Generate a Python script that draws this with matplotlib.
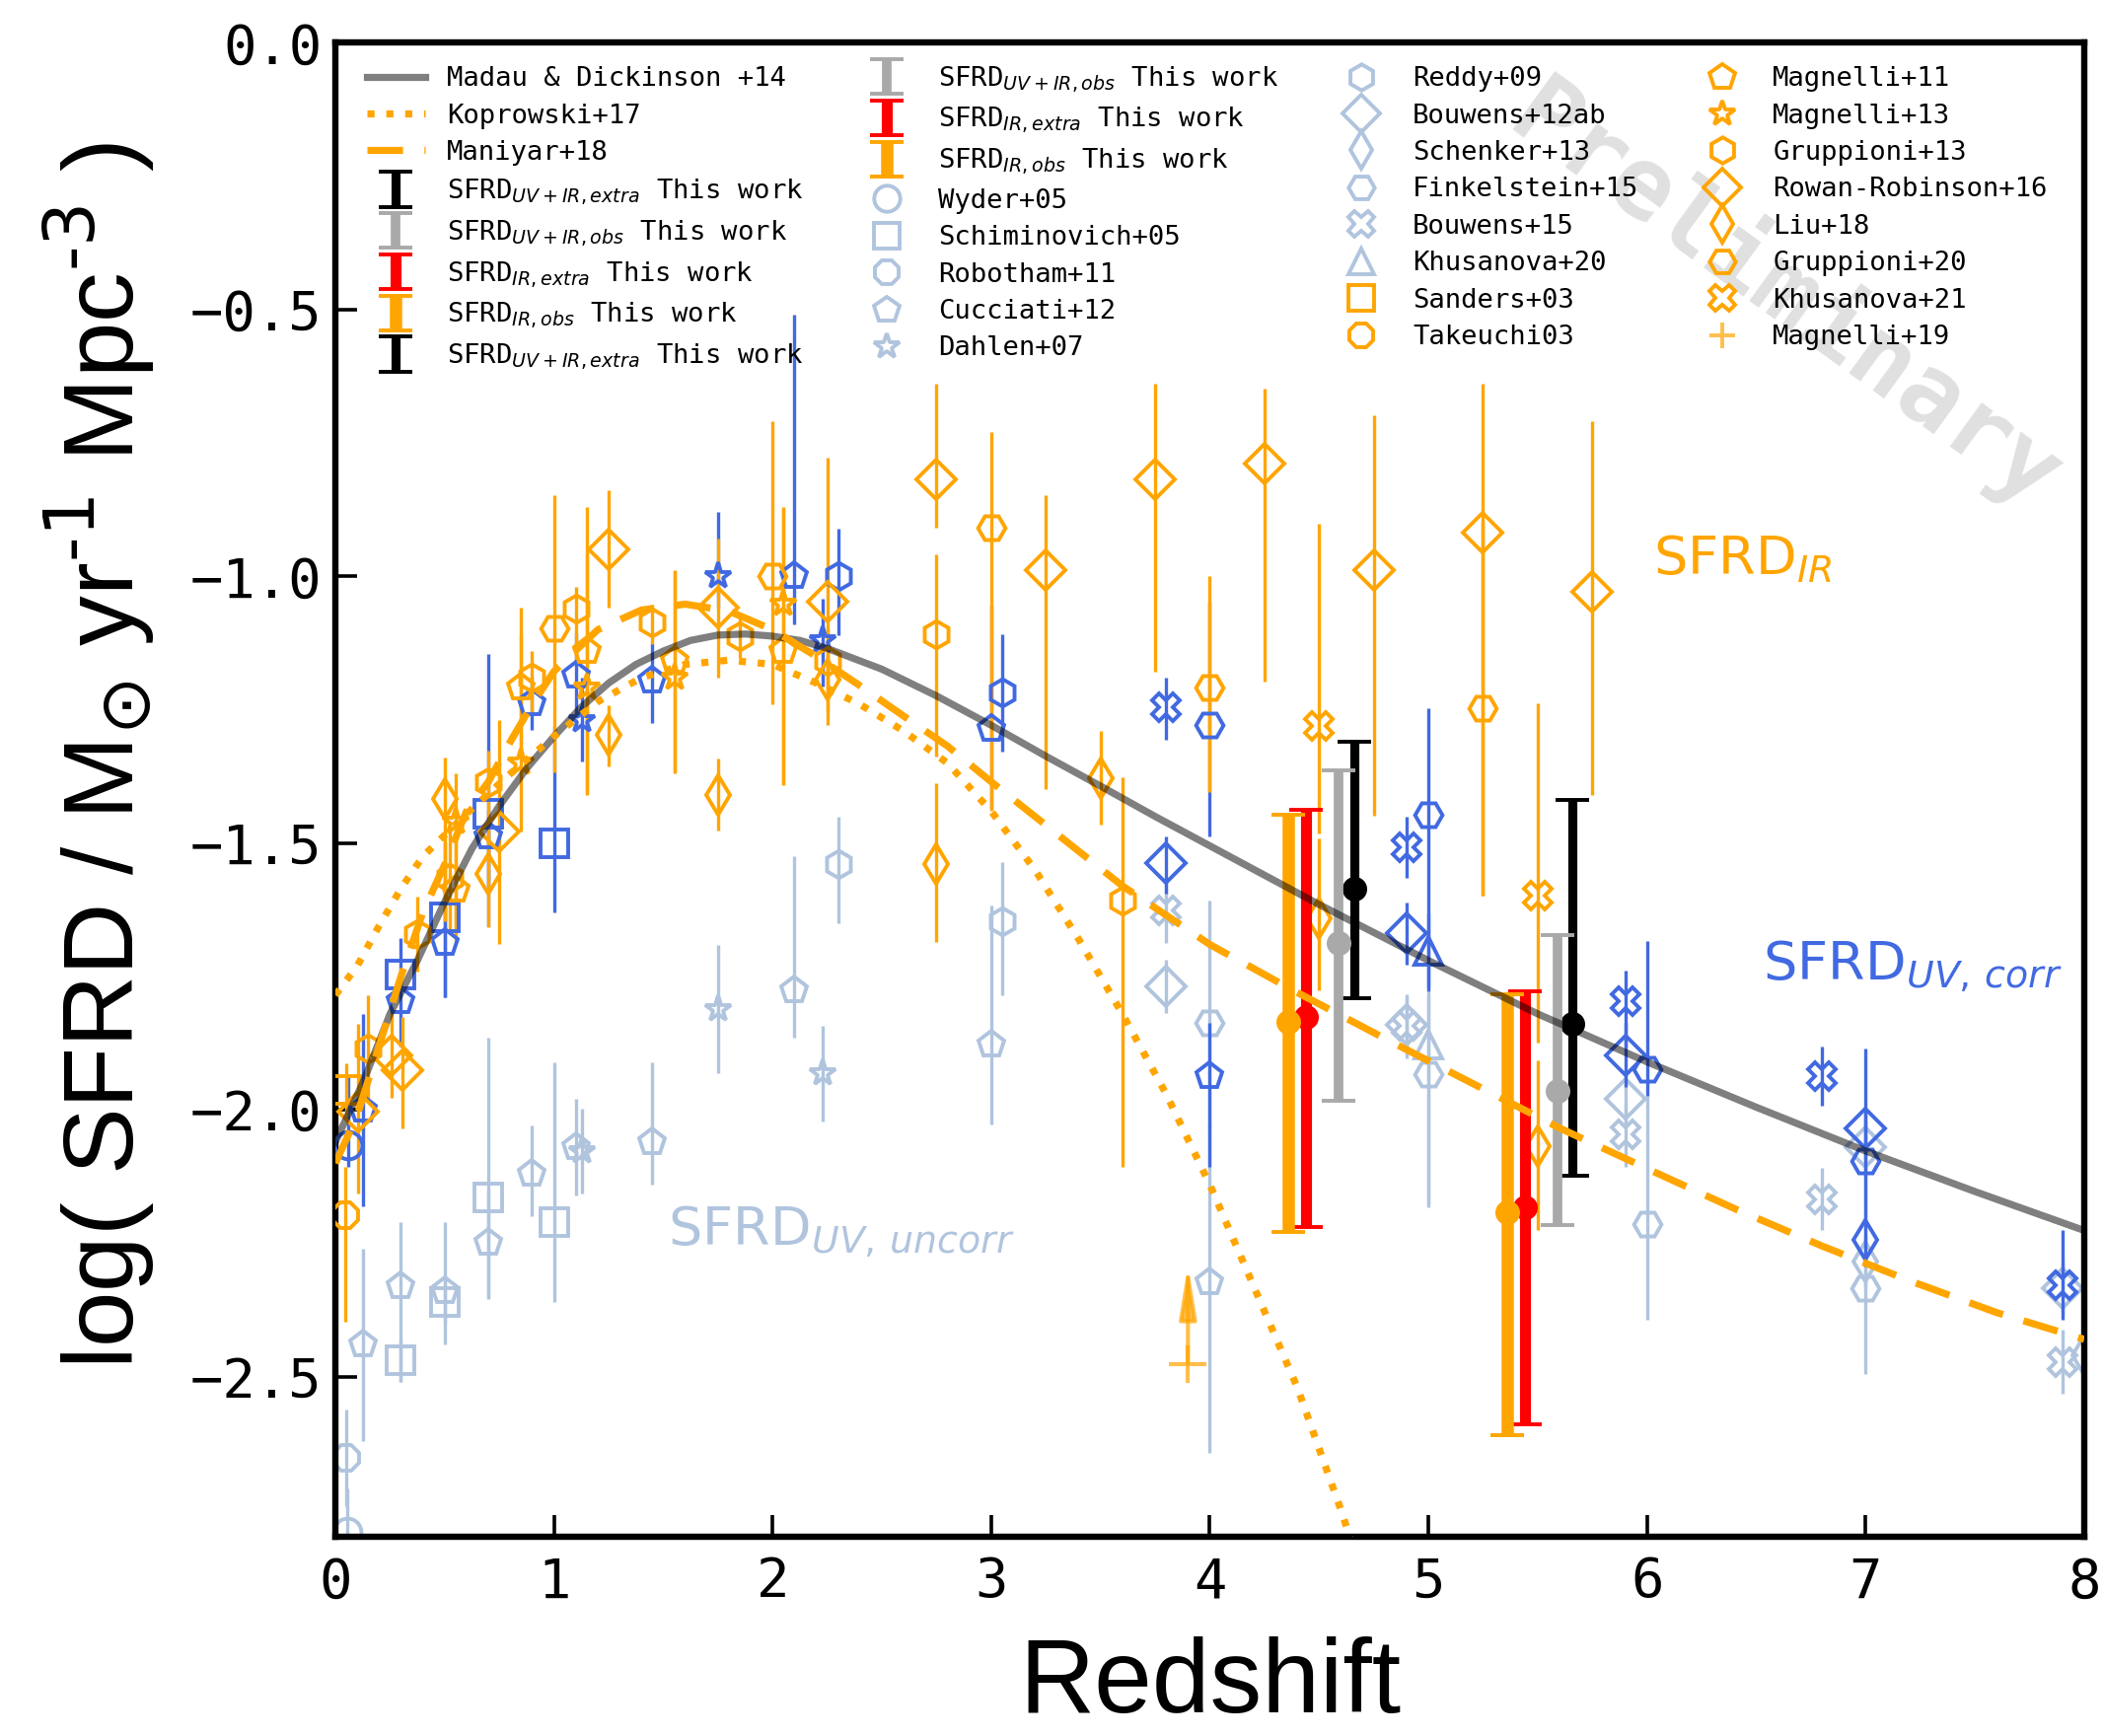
import matplotlib
matplotlib.use('Agg')
import matplotlib.pyplot as plt
from matplotlib.lines import Line2D
from matplotlib.container import ErrorbarContainer
from matplotlib.legend_handler import HandlerErrorbar

plt.rcParams['font.family'] = 'DejaVu Sans Mono'
plt.rcParams['mathtext.fontset'] = 'dejavusans'

LB = 'lightsteelblue'   # UV, uncorrected
RB = 'royalblue'        # UV, dust corrected
OR = 'orange'           # IR

# ---- model curves
md_z = [0, 0.125, 0.25, 0.375, 0.5, 0.625, 0.75, 0.875, 1.0, 1.125, 1.25, 1.375, 1.5, 1.625,
        1.75, 1.875, 2.0, 2.125, 2.25, 2.5, 2.75, 3.0, 3.25, 3.5, 3.75, 4.0, 4.5, 5.0, 5.5,
        6.0, 6.5, 7.0, 7.5, 8.0]
md_sfrd = [-2.06, -1.95, -1.82, -1.72, -1.61, -1.51, -1.43, -1.36, -1.30, -1.245, -1.20,
           -1.165, -1.14, -1.12, -1.11, -1.108, -1.112, -1.12, -1.135, -1.174, -1.224, -1.279,
           -1.337, -1.393, -1.45, -1.505, -1.615, -1.72, -1.82, -1.91, -1.995, -2.077, -2.153,
           -2.226]

kop_z = [0, 0.1, 0.2, 0.3, 0.4, 0.5, 0.6, 0.8, 1.0, 1.2, 1.4, 1.6, 1.8, 2.0, 2.2, 2.4, 2.6,
         2.8, 3.0, 3.2, 3.4, 3.6, 3.8, 4.0, 4.2, 4.4, 4.6, 4.8]
kop_sfrd = [-1.785, -1.73, -1.655, -1.585, -1.525, -1.485, -1.445, -1.37, -1.30, -1.235, -1.19,
            -1.165, -1.157, -1.165, -1.20, -1.24, -1.29, -1.35, -1.44, -1.55, -1.68, -1.82,
            -1.97, -2.14, -2.33, -2.52, -2.75, -3.0]

man_z = [0, 0.1, 0.2, 0.3, 0.4, 0.5, 0.6, 0.7, 0.8, 0.9, 1.0, 1.2, 1.4, 1.6, 1.8, 2.0, 2.2,
         2.4, 2.6, 2.8, 3.0, 3.2, 3.6, 4.0, 4.4, 4.8, 5.2, 5.6, 6.0, 6.4, 6.8, 7.2, 7.6, 8.0]
man_sfrd = [-2.10, -2.01, -1.88, -1.75, -1.63, -1.54, -1.44, -1.385, -1.31, -1.24, -1.178, -1.10,
            -1.063, -1.052, -1.065, -1.10, -1.15, -1.205, -1.262, -1.318, -1.385, -1.45, -1.58,
            -1.69, -1.78, -1.866, -1.95, -2.034, -2.11, -2.185, -2.255, -2.32, -2.38, -2.43]

# ---- this work: two redshift bins
uvir_extra_z = [4.66, 5.66]
uvir_extra = [-1.586, -1.839]
uvir_extra_lo = [0.205, 0.284]
uvir_extra_hi = [0.276, 0.42]

uvir_obs_z = [4.59, 5.59]
uvir_obs = [-1.688, -1.965]
uvir_obs_lo = [0.295, 0.25]
uvir_obs_hi = [0.325, 0.293]

ir_extra_z = [4.44, 5.44]
ir_extra = [-1.826, -2.183]
ir_extra_lo = [0.393, 0.406]
ir_extra_hi = [0.389, 0.406]

ir_obs_z = [4.36, 5.36]
ir_obs = [-1.835, -2.191]
ir_obs_lo = [0.393, 0.419]
ir_obs_hi = [0.389, 0.407]

# ---- UV literature: uncorrected (u) and dust corrected (c)
wyder_uz, wyder_u, wyder_ulo, wyder_uhi = [0.055], [-2.79], [0.06], [0.08]
wyder_cz, wyder_c, wyder_clo, wyder_chi = [0.06], [-2.067], [0.04], [0.13]

robotham_uz, robotham_u, robotham_ulo, robotham_uhi = [0.05], [-2.652], [0.09], [0.09]

schim_uz = [0.3, 0.5, 0.7, 1.0]
schim_u = [-2.47, -2.36, -2.165, -2.21]
schim_ulo = [0.04, 0.04, 0.19, 0.15]
schim_uhi = [0.04, 0.04, 0.30, 0.30]
schim_cz = [0.3, 0.5, 0.7, 1.0]
schim_c = [-1.747, -1.639, -1.445, -1.50]
schim_clo = [0.04, 0.15, 0.21, 0.13]
schim_chi = [0.07, 0.14, 0.30, 0.22]

cucciati_uz = [0.125, 0.3, 0.5, 0.7, 0.9, 1.1, 1.45, 2.1, 3.0, 4.0]
cucciati_u = [-2.44, -2.33, -2.34, -2.25, -2.12, -2.07, -2.06, -1.775, -1.877, -2.323]
cucciati_ulo = [0.18, 0.18, 0.10, 0.1, 0.08, 0.09, 0.08, 0.09, 0.15, 0.32]
cucciati_uhi = [0.18, 0.12, 0.13, 0.1, 0.09, 0.09, 0.15, 0.25, 0.26, 0.30]
cucciati_cz = [0.125, 0.3, 0.5, 0.7, 0.9, 1.1, 1.45, 2.1, 3.0, 4.0]
cucciati_c = [-2.00, -1.796, -1.688, -1.487, -1.238, -1.186, -1.195, -1.00, -1.285, -1.937]
cucciati_clo = [0.18, 0.085, 0.1, 0.1, 0.05, 0.08, 0.08, 0.09, 0.15, 0.17]
cucciati_chi = [0.18, 0.05, 0.07, 0.05, 0.05, 0.08, 0.07, 0.49, 0.23, 0.10]

dahlen_uz, dahlen_u = [1.13, 1.75, 2.23], [-2.077, -1.811, -1.932]
dahlen_ulo, dahlen_uhi = [0.08, 0.12, 0.09], [0.08, 0.12, 0.09]
dahlen_cz, dahlen_c = [1.13, 1.75, 2.23], [-1.27, -1.00, -1.12]
dahlen_clo, dahlen_chi = [0.076, 0.06, 0.087], [0.08, 0.12, 0.078]

reddy_uz, reddy_u, reddy_ulo, reddy_uhi = [2.3, 3.05], [-1.54, -1.646], [0.11, 0.14], [0.09, 0.11]
reddy_cz, reddy_c, reddy_clo, reddy_chi = [2.3, 3.05], [-1.00, -1.218], [0.11, 0.11], [0.09, 0.11]

bouwens12_uz = [3.8, 4.9, 5.9, 7.0, 7.9]
bouwens12_u = [-1.769, -1.84, -1.979, -2.07, -2.335]
bouwens12_uerr = [0.05, 0.05, 0.05, 0.05, 0.05]
bouwens12_cz = [3.8, 4.9, 5.9, 7.0]
bouwens12_c = [-1.538, -1.669, -1.897, -2.034]
bouwens12_clo = [0.056, 0.058, 0.06, 0.06]
bouwens12_chi = [0.051, 0.058, 0.06, 0.15]

schenker_uz, schenker_u, schenker_uerr = [7.0, 8.0], [-2.284, -2.46], [0.05, 0.05]
schenker_cz, schenker_c, schenker_cerr = [7.0], [-2.244], [0.05]

finkel_uz = [4.0, 5.0, 6.0, 7.0]
finkel_u = [-1.837, -1.933, -2.214, -2.335]
finkel_ulo = [0.2, 0.25, 0.18, 0.16]
finkel_uhi = [0.23, 0.15, 0.24, 0.23]
finkel_cz = [4.0, 5.0, 6.0, 7.0]
finkel_c = [-1.278, -1.447, -1.924, -2.096]
finkel_clo = [0.21, 0.33, 0.05, 0.1]
finkel_chi = [0.23, 0.20, 0.24, 0.1]

bouwens15_uz = [3.8, 4.9, 5.9, 6.8, 7.9]
bouwens15_u = [-1.627, -1.843, -2.046, -2.167, -2.472]
bouwens15_uerr = [0.06, 0.06, 0.06, 0.058, 0.06]
bouwens15_cz = [3.8, 4.9, 5.9, 6.8, 7.9]
bouwens15_c = [-1.246, -1.508, -1.797, -1.937, -2.329]
bouwens15_clo = [0.06, 0.058, 0.084, 0.055, 0.065]
bouwens15_chi = [0.056, 0.058, 0.058, 0.055, 0.104]

khus20_uz, khus20_u, khus20_ulo, khus20_uhi = [5.0], [-1.877], [0.3], [0.1]
khus20_cz, khus20_c, khus20_cerr = [5.0], [-1.702], [0.07]

# ---- IR literature
sanders_z, sanders, sanders_err = [0.05], [-1.962], [0.05]
takeuchi_z, takeuchi, takeuchi_lo, takeuchi_hi = [0.045], [-2.197], [0.2], [0.09]

magnelli11_z = [0.55, 0.85, 1.15, 1.55, 2.05]
magnelli11 = [-1.587, -1.208, -1.14, -1.158, -1.14]
magnelli11_lo = [0.1, 0.12, 0.27, 0.21, 0.25]
magnelli11_hi = [0.1, 0.1, 0.27, 0.17, 0.27]

magnelli13_z = [0.55, 0.85, 1.15, 1.55, 2.05]
magnelli13 = [-1.46, -1.349, -1.208, -1.19, -1.052]
magnelli13_lo = [0.2, 0.13, 0.2, 0.18, 0.34]
magnelli13_hi = [0.09, 0.29, 0.25, 0.2, 0.18]

gruppioni13_z = [0.15, 0.375, 0.525, 0.7, 0.9, 1.1, 1.45, 1.85, 2.25, 2.75, 3.6]
gruppioni13 = [-1.885, -1.67, -1.565, -1.386, -1.189, -1.06, -1.087, -1.112, -1.158, -1.108, -1.607]
gruppioni13_lo = [0.1, 0.07, 0.1, 0.15, 0.07, 0.1, 0.04, 0.04, 0.06, 0.23, 0.5]
gruppioni13_hi = [0.1, 0.07, 0.1, 0.06, 0.05, 0.04, 0.034, 0.04, 0.06, 0.15, 0.23]

rowan_z = [0.105, 0.255, 0.308, 0.75, 1.25, 1.75, 2.25, 2.75, 3.25, 3.75, 4.25, 4.75, 5.25, 5.75]
rowan = [-2.003, -1.898, -1.925, -1.479, -0.949, -1.059, -1.048, -0.818, -0.988, -0.819, -0.788,
         -0.988, -0.918, -1.029]
rowan_lo = [0.154, 0.08, 0.11, 0.21, 0.11, 0.13, 0.23, 0.09, 0.41, 0.36, 0.41, 0.46, 0.68, 0.38]
rowan_hi = [0.164, 0.09, 0.1, 0.21, 0.11, 0.13, 0.27, 0.18, 0.14, 0.18, 0.14, 0.29, 0.28, 0.32]

liu18_z = [0.5, 0.7, 1.25, 1.75, 2.25, 2.75, 3.5, 4.5, 5.5]
liu18 = [-1.417, -1.557, -1.297, -1.409, -1.193, -1.54, -1.378, -1.64, -2.068]
liu18_lo = [0.23, 0.1, 0.06, 0.067, 0.06, 0.145, 0.088, 0.135, 0.157]
liu18_hi = [0.077, 0.07, 0.056, 0.067, 0.06, 0.152, 0.089, 0.149, 0.161]

gruppioni20_z = [1.0, 2.0, 3.0, 4.0, 5.25]
gruppioni20 = [-1.098, -0.999, -0.909, -1.208, -1.248]
gruppioni20_lo = [0.27, 0.24, 0.53, 0.196, 0.35]
gruppioni20_hi = [0.25, 0.29, 0.18, 0.209, 0.35]

khus21_z, khus21, khus21_lo, khus21_hi = [4.5, 5.5], [-1.281, -1.598], [0.2, 0.275], [0.38, 0.36]

magnelli19_z, magnelli19, magnelli19_tip = [3.9], [-2.476], [-2.29]


def pts(ax, z, v, lo, hi, marker, color, zorder=3, ms=10):
    ax.errorbar(z, v, yerr=[lo, hi], fmt=marker, mfc='none', mec=color, ecolor=color,
                ms=ms, mew=1.4, elinewidth=1.2, capsize=0, zorder=zorder)


def proxy(marker, color, alpha=1.0):
    return Line2D([], [], ls='none', marker=marker, mfc='none', mec=color, ms=9.5, mew=1.4,
                  alpha=alpha)


fig = plt.figure(figsize=(2133 / 200, 1760 / 200), dpi=200)
ax = fig.add_axes([0.1594, 0.1148, 0.8312, 0.8605])

# uncorrected UV
pts(ax, wyder_uz, wyder_u, wyder_ulo, wyder_uhi, 'o', LB, 2)
pts(ax, robotham_uz, robotham_u, robotham_ulo, robotham_uhi, '8', LB, 2)
pts(ax, schim_uz, schim_u, schim_ulo, schim_uhi, 's', LB, 2)
pts(ax, cucciati_uz, cucciati_u, cucciati_ulo, cucciati_uhi, 'p', LB, 2)
pts(ax, dahlen_uz, dahlen_u, dahlen_ulo, dahlen_uhi, '*', LB, 2)
pts(ax, reddy_uz, reddy_u, reddy_ulo, reddy_uhi, 'h', LB, 2)
pts(ax, bouwens12_uz, bouwens12_u, bouwens12_uerr, bouwens12_uerr, 'D', LB, 2)
pts(ax, schenker_uz, schenker_u, schenker_uerr, schenker_uerr, 'd', LB, 2)
pts(ax, finkel_uz, finkel_u, finkel_ulo, finkel_uhi, 'H', LB, 2)
pts(ax, bouwens15_uz, bouwens15_u, bouwens15_uerr, bouwens15_uerr, 'X', LB, 2)
pts(ax, khus20_uz, khus20_u, khus20_ulo, khus20_uhi, '^', LB, 2)

# dust corrected UV
pts(ax, wyder_cz, wyder_c, wyder_clo, wyder_chi, 'o', RB)
pts(ax, schim_cz, schim_c, schim_clo, schim_chi, 's', RB)
pts(ax, cucciati_cz, cucciati_c, cucciati_clo, cucciati_chi, 'p', RB)
pts(ax, dahlen_cz, dahlen_c, dahlen_clo, dahlen_chi, '*', RB)
pts(ax, reddy_cz, reddy_c, reddy_clo, reddy_chi, 'h', RB)
pts(ax, bouwens12_cz, bouwens12_c, bouwens12_clo, bouwens12_chi, 'D', RB)
pts(ax, schenker_cz, schenker_c, schenker_cerr, schenker_cerr, 'd', RB)
pts(ax, finkel_cz, finkel_c, finkel_clo, finkel_chi, 'H', RB)
pts(ax, bouwens15_cz, bouwens15_c, bouwens15_clo, bouwens15_chi, 'X', RB)
pts(ax, khus20_cz, khus20_c, khus20_cerr, khus20_cerr, '^', RB)

# IR
pts(ax, sanders_z, sanders, sanders_err, sanders_err, 's', OR)
pts(ax, takeuchi_z, takeuchi, takeuchi_lo, takeuchi_hi, '8', OR)
pts(ax, magnelli11_z, magnelli11, magnelli11_lo, magnelli11_hi, 'p', OR)
pts(ax, magnelli13_z, magnelli13, magnelli13_lo, magnelli13_hi, '*', OR)
pts(ax, gruppioni13_z, gruppioni13, gruppioni13_lo, gruppioni13_hi, 'h', OR)
pts(ax, rowan_z, rowan, rowan_lo, rowan_hi, 'D', OR)
pts(ax, liu18_z, liu18, liu18_lo, liu18_hi, 'd', OR)
pts(ax, gruppioni20_z, gruppioni20, gruppioni20_lo, gruppioni20_hi, 'H', OR)
pts(ax, khus21_z, khus21, khus21_lo, khus21_hi, 'X', OR)

# Magnelli+19 lower limit
ax.plot(magnelli19_z, magnelli19, '+', color=OR, alpha=0.7, ms=14, mew=1.5, zorder=3)
ax.annotate('', xy=(magnelli19_z[0], magnelli19_tip[0]), xytext=(magnelli19_z[0], magnelli19[0]),
            arrowprops=dict(arrowstyle='-|>,head_length=0.8,head_width=0.13', color=OR,
                            alpha=0.7, lw=1.5, mutation_scale=20, shrinkA=0, shrinkB=0),
            zorder=3)

# model curves
md_line, = ax.plot(md_z, md_sfrd, color='k', alpha=0.5, lw=2.6, zorder=10)
kop_line, = ax.plot(kop_z, kop_sfrd, color=OR, ls=':', lw=2.6, zorder=10)
man_line, = ax.plot(man_z, man_sfrd, color=OR, ls=(0, (5, 3)), lw=2.6, zorder=10)

# this work
tw_series = [
    (uvir_extra_z, uvir_extra, uvir_extra_lo, uvir_extra_hi, 'k', 3.3),
    (uvir_obs_z, uvir_obs, uvir_obs_lo, uvir_obs_hi, 'darkgrey', 3.5),
    (ir_extra_z, ir_extra, ir_extra_lo, ir_extra_hi, 'red', 4.0),
    (ir_obs_z, ir_obs, ir_obs_lo, ir_obs_hi, OR, 4.5),
]
tw_labels = [r'SFRD$_{UV+IR,extra}$ This work', r'SFRD$_{UV+IR,obs}$ This work',
             r'SFRD$_{IR,extra}$ This work', r'SFRD$_{IR,obs}$ This work']
tw_handles = []
for i in range(2):
    for (zz, vv, lo, hi, col, lw), lab in zip(tw_series, tw_labels):
        eb = ax.errorbar([zz[i]], [vv[i]], yerr=[[lo[i]], [hi[i]]], fmt='none', ecolor=col,
                         elinewidth=lw, capsize=6, capthick=1.4, zorder=8)
        ax.plot([zz[i]], [vv[i]], 'o', color=col, ms=8, zorder=8)
        tw_handles.append((eb, lab))

# annotations
ax.text(6.03, -0.996, r'SFRD$_{IR}$', color=OR, fontsize=19.5, family='DejaVu Sans')
ax.text(6.53, -1.756, r'SFRD$_{UV,\,corr}$', color=RB, fontsize=19.5, family='DejaVu Sans')
ax.text(1.52, -2.254, r'SFRD$_{UV,\,uncorr}$', color=LB, fontsize=19.5, family='DejaVu Sans')
ax.text(0.829, 0.83, 'Preliminary', transform=ax.transAxes, rotation=-36, fontsize=36,
        fontweight='bold', color='#e0e0e0', ha='center', va='center', zorder=0)

# legend
handles = [md_line, kop_line, man_line] + [h for h, _ in tw_handles] + [
    proxy('o', LB), proxy('s', LB), proxy('8', LB), proxy('p', LB), proxy('*', LB),
    proxy('h', LB), proxy('D', LB), proxy('d', LB), proxy('H', LB), proxy('X', LB),
    proxy('^', LB), proxy('s', OR), proxy('8', OR),
    proxy('p', OR), proxy('*', OR), proxy('h', OR), proxy('D', OR), proxy('d', OR),
    proxy('H', OR), proxy('X', OR), proxy('+', OR, 0.7)]
labels = ['Madau & Dickinson +14', 'Koprowski+17', 'Maniyar+18'] + [l for _, l in tw_handles] + [
    'Wyder+05', 'Schiminovich+05', 'Robotham+11', 'Cucciati+12', 'Dahlen+07',
    'Reddy+09', 'Bouwens+12ab', 'Schenker+13', 'Finkelstein+15', 'Bouwens+15',
    'Khusanova+20', 'Sanders+03', 'Takeuchi03',
    'Magnelli+11', 'Magnelli+13', 'Gruppioni+13', 'Rowan-Robinson+16', 'Liu+18',
    'Gruppioni+20', 'Khusanova+21', 'Magnelli+19']
ax.legend(handles, labels, loc='upper left', bbox_to_anchor=(0.0055, 1.0), ncol=4,
          frameon=False, fontsize=9.8, handlelength=2.2, handletextpad=0.8,
          columnspacing=2.0, labelspacing=0.42, borderaxespad=0.4,
          handler_map={ErrorbarContainer: HandlerErrorbar(yerr_size=0.65)})

ax.set_xlim(0, 8)
ax.set_ylim(-2.8, 0)
ax.set_xticks(range(0, 9))
ax.set_yticks([0.0, -0.5, -1.0, -1.5, -2.0, -2.5])
ax.set_yticklabels(['0.0', '\u22120.5', '\u22121.0', '\u22121.5', '\u22122.0', '\u22122.5'])
ax.tick_params(direction='in', length=8, width=1.3, labelsize=20)
ax.tick_params(axis='x', pad=7)
ax.tick_params(axis='y', pad=5)
for sp in ax.spines.values():
    sp.set_linewidth(2.3)

ax.set_xlabel('Redshift', family='Liberation Sans', fontsize=38, labelpad=10)
ax.set_ylabel(r'log( SFRD / M$_{\odot}$ yr$^{\text{-1}}$ Mpc$^{\text{-3}}$ )',
              family='Liberation Sans', fontsize=36.5)
ax.yaxis.set_label_coords(-0.102, 0.523)

fig.savefig('out.png', dpi=200)
